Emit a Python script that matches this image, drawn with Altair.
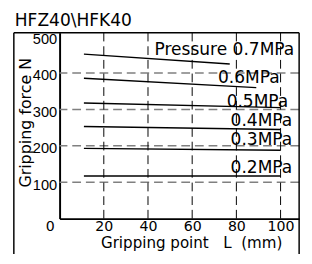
import altair as alt
import pandas as pd

# ---- data ----
pressures = ["0.7", "0.6", "0.5", "0.4", "0.3", "0.2"]
x_start = [11, 11, 11, 11, 11, 11]
x_end = [77, 89, 100, 100, 100, 100]
f_start = [452, 386, 318, 253, 193, 117]
f_end = [425, 360, 305, 245, 188, 117]

label_text = ["Pressure 0.7MPa", "0.6MPa", "0.5MPa", "0.4MPa", "0.3MPa", "0.2MPa"]
label_x = [106.2, 99.6, 103.5, 105.3, 105.3, 105.3]
label_f = [462, 386, 321, 269, 217, 138]

x_ticks = [0, 20, 40, 60, 80, 100]
y_ticks = [100, 200, 300, 400, 500]
x_grid = [20, 40, 60, 80, 100]
y_grid = [100, 200, 300, 400]

W, H = 246, 191
NB = "\u00a0"

lines_df = pd.DataFrame({"p": pressures, "x": x_start, "x2": x_end, "y": f_start, "y2": f_end})
labels_df = pd.DataFrame({"t": label_text, "x": label_x, "y": label_f})
xgrid_df = pd.DataFrame({"x": x_grid})
ygrid_df = pd.DataFrame({"y": y_grid})
one = pd.DataFrame({"a": [0]})

xscale = alt.Scale(domain=[0, 108.4], nice=False, zero=False)
yscale = alt.Scale(domain=[0, 511], nice=False, zero=False)

xaxis = alt.Axis(
    values=x_ticks, grid=False, ticks=False, domainColor="black", domainWidth=2,
    labelFont="DejaVu Sans", labelFontSize=14.5, labelColor="black", labelPadding=1,
    labelFlush=False,
    labelOffset={"condition": {"test": "datum.value === 0", "value": -10}, "value": 0},
    title="Gripping point" + NB * 3 + "L" + NB * 2 + "(mm)",
    titleFont="DejaVu Sans", titleFontSize=15.5,
    titleFontWeight="normal", titleColor="black", titleAlign="left",
    titleBaseline="alphabetic", titleX=42, titleY=30,
)
yaxis = alt.Axis(
    values=y_ticks, grid=False, ticks=False, domainColor="black", domainWidth=2,
    labelFont="Liberation Sans", labelFontSize=15, labelColor="black", labelPadding=3,
    labelOffset=2,
    title="Gripping force N", titleFont="DejaVu Sans", titleFontSize=16.3,
    titleFontWeight="normal", titleColor="black", titleAngle=-90, titleAlign="center",
    titleBaseline="middle", titleX=-35, titleY=92,
)

def X(field="x"):
    return alt.X(f"{field}:Q", scale=xscale, axis=xaxis)

def Y(field="y"):
    return alt.Y(f"{field}:Q", scale=yscale, axis=yaxis)

vgrid = alt.Chart(xgrid_df).mark_rule(color="black", strokeWidth=1, strokeDash=[9, 5]).encode(x=X())
hgrid = alt.Chart(ygrid_df).mark_rule(color="#808080", strokeWidth=1.6, strokeDash=[9, 5]).encode(y=Y())

lines = alt.Chart(lines_df).mark_rule(color="black", strokeWidth=1.5).encode(
    x=X(), x2="x2:Q", y=Y(), y2="y2:Q"
)

labels = alt.Chart(labels_df).mark_text(
    align="right", baseline="middle", font="DejaVu Sans", fontSize=17.5, color="black"
).encode(x=X(), y=Y(), text="t:N")

frame_left = alt.Chart(one).mark_rule(color="black", strokeWidth=1.5).encode(
    x=alt.value(-47), y=alt.value(0), y2=alt.value(245)
)
frame_top = alt.Chart(one).mark_rule(color="black", strokeWidth=1.5).encode(
    x=alt.value(-47), x2=alt.value(W), y=alt.value(0)
)
frame_right = alt.Chart(one).mark_rule(color="black", strokeWidth=1.5).encode(
    x=alt.value(W), y=alt.value(0), y2=alt.value(245)
)

chart = alt.layer(
    hgrid, vgrid, lines, labels, frame_left, frame_top, frame_right
).properties(
    width=W, height=H,
    background="white",
    title=alt.TitleParams(
        "HFZ40\\HFK40", anchor="start", frame="group", dx=-46, offset=2,
        font="DejaVu Sans", fontSize=17.5, fontWeight="normal", color="black",
    ),
    autosize=alt.AutoSizeParams(type="none"),
    padding={"left": 53, "top": 22, "right": 5, "bottom": 33},
).configure_view(stroke=None)

chart.save("out.html", embed_options={"renderer": "svg", "actions": False})
